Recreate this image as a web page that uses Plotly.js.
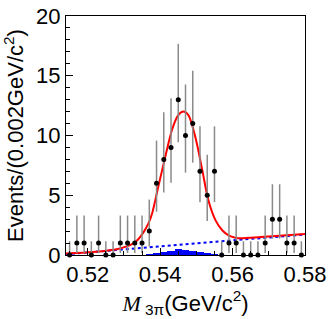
<!DOCTYPE html>
<html>
<head>
<meta charset="utf-8">
<script src="https://cdn.plot.ly/plotly-3.0.1.min.js"></script>
<style>html,body{margin:0;padding:0;background:#fff;}#chart{width:332px;height:319px;}</style>
</head>
<body>
<div id="chart"></div>
<script>
// Data points (bin centres, 0.002 GeV/c^2 bins)
var massBins = [0.515,0.517,0.519,0.521,0.523,0.525,0.527,0.529,0.531,0.533,0.535,0.537,0.539,0.541,0.543,0.545,0.547,0.549,0.551,0.553,0.555,0.557,0.559,0.561,0.563,0.565,0.567,0.569,0.571,0.573,0.575,0.577,0.579];
var events   = [0,1,1,0,1,0,0,1,1,1,1,2,6,8,9,13,10,11,7,5,7,0,1,1,0,0,0,1,3,3,1,1,0];
var errUp    = [1.15,2.30,2.30,1.15,2.30,1.15,1.15,2.30,2.30,2.30,2.30,2.64,3.58,3.95,4.11,4.67,4.27,4.42,3.77,3.38,3.77,1.15,2.30,2.30,1.15,1.15,1.15,2.30,2.92,2.92,2.30,2.30,1.15];
var errDown  = [0,0.83,0.83,0,0.83,0,0,0.83,0.83,0.83,0.83,1.29,2.38,2.77,2.96,3.56,3.11,3.27,2.58,2.16,2.58,0,0.83,0.83,0,0,0,0.83,1.63,1.63,0.83,0.83,0];

// Total fit curve
var fitX = [0.5140,0.5214,0.5261,0.5289,0.5308,0.5325,0.5339,0.5353,0.5367,0.5378,0.5394,0.5414,0.5433,0.5450,0.5464,0.5478,0.5497,0.5517,0.5533,0.5553,0.5572,0.5589,0.5608,0.5622,0.5678,0.5800];
var fitY = [0.12,0.25,0.40,0.55,0.72,0.95,1.30,1.85,2.60,3.50,5.60,8.20,10.50,11.70,12.00,11.70,9.90,7.00,4.60,2.90,2.05,1.65,1.45,1.40,1.50,1.75];

// Linear background
var bkgX = [0.514,0.580];
var bkgY = [0.07,1.72];

// Peaking background histogram
var peakBins = [0.537,0.539,0.541,0.543,0.545,0.547,0.549,0.551,0.553,0.555];
var peakVals = [0.06,0.14,0.25,0.36,0.47,0.45,0.33,0.22,0.14,0.08];

var xTickVals = [0.52,0.54,0.56,0.58];
var xTickText = ['0.52','0.54','0.56','0.58'];
var yTickVals = [0,5,10,15,20];
var yTickText = ['0','5','10','15','20'];

var FONT = 'Liberation Sans, Arial, Helvetica, sans-serif';

var traces = [
  {type:'bar', x:peakBins, y:peakVals, width:0.002, marker:{color:'#0000ff', line:{width:0}}, hoverinfo:'skip', showlegend:false},
  {type:'scatter', mode:'lines', x:bkgX, y:bkgY, line:{color:'#0000ff', width:2, dash:'dot'}, showlegend:false},
  {type:'scatter', mode:'lines', x:fitX, y:fitY, line:{color:'#ff0000', width:2, shape:'spline', smoothing:0.8}, showlegend:false},
  {type:'scatter', mode:'markers', x:massBins, y:events, cliponaxis:false,
   marker:{color:'#000000', size:5},
   error_y:{type:'data', symmetric:false, array:errUp, arrayminus:errDown, color:'#8a8a8a', thickness:1.5, width:0},
   showlegend:false}
];

var layout = {
  width:332, height:319,
  margin:{l:66, r:27, t:16, b:64},
  paper_bgcolor:'#ffffff', plot_bgcolor:'#ffffff',
  bargap:0,
  font:{family:FONT, size:22, color:'#000'},
  xaxis:{
    range:[0.514,0.58], tickmode:'array', tickvals:xTickVals, ticktext:xTickText,
    ticks:'inside', ticklen:7, tickwidth:1, tickcolor:'#000',
    minor:{dtick:0.005, tick0:0.52, ticks:'inside', ticklen:4, tickcolor:'#000', showgrid:false},
    showline:true, linecolor:'#000', linewidth:1, mirror:true,
    showgrid:false, zeroline:false,
    tickfont:{family:FONT, size:22},
    title:{text:'<span style="font-family:Liberation Serif, Times New Roman, serif"><i>M</i></span><sub> 3π</sub>(GeV/c<sup>2</sup>)', font:{family:FONT, size:22}, standoff:8}
  },
  yaxis:{
    range:[0,20], tickmode:'array', tickvals:yTickVals, ticktext:yTickText,
    ticks:'inside', ticklen:7, tickwidth:1, tickcolor:'#000',
    minor:{dtick:1, tick0:0, ticks:'inside', ticklen:4, tickcolor:'#000', showgrid:false},
    showline:true, linecolor:'#000', linewidth:1, mirror:true,
    showgrid:false, zeroline:false,
    tickfont:{family:FONT, size:22},
    title:{text:'Events/(0.002GeV/c<sup>2</sup>)', font:{family:FONT, size:22}, standoff:6}
  }
};

Plotly.newPlot('chart', traces, layout, {staticPlot:true, displayModeBar:false});
</script>
</body>
</html>
